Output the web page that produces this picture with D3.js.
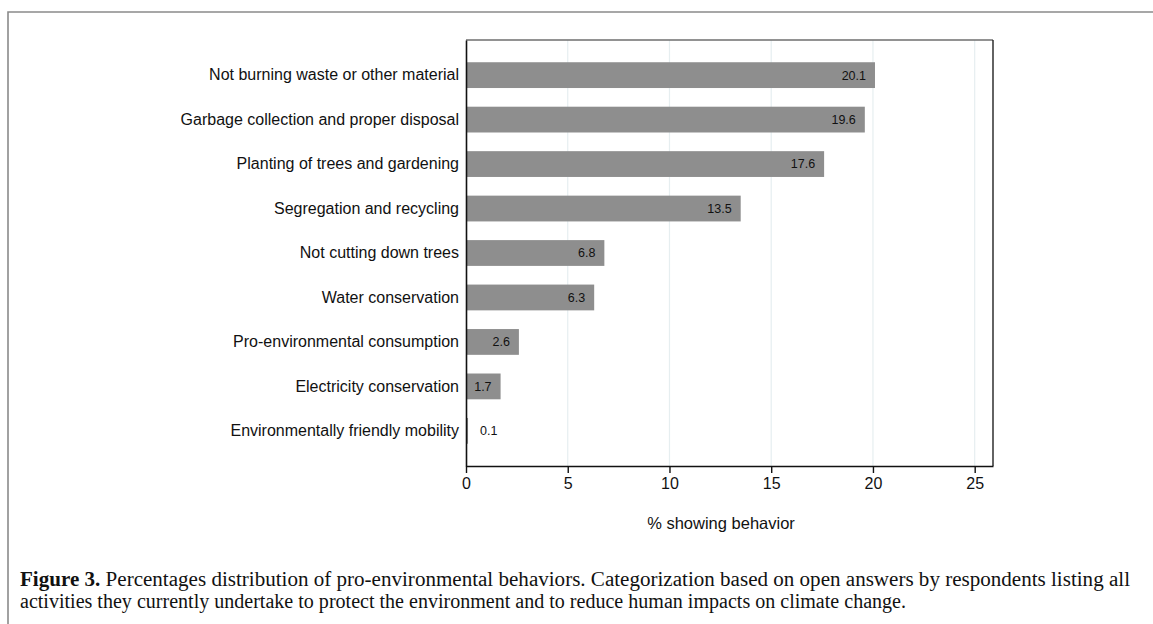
<!DOCTYPE html>
<html>
<head>
<meta charset="utf-8">
<script src="https://cdn.jsdelivr.net/npm/d3@7"></script>
<style>
    body { margin: 0; background: #fff; }
    svg { display: block; }
</style>
</head>
<body>
<div id="chart"></div>
<script>
// data
var categories = [
    "Not burning waste or other material",
    "Garbage collection and proper disposal",
    "Planting of trees and gardening",
    "Segregation and recycling",
    "Not cutting down trees",
    "Water conservation",
    "Pro-environmental consumption",
    "Electricity conservation",
    "Environmentally friendly mobility"
];
var values = [20.1, 19.6, 17.6, 13.5, 6.8, 6.3, 2.6, 1.7, 0.1];
var xTicks = [0, 5, 10, 15, 20, 25];
var axisTitle = "% showing behavior";
var captionBold = "Figure 3.";
var captionLines = [
    " Percentages distribution of pro-environmental behaviors. Categorization based on open answers by respondents listing all",
    "activities they currently undertake to protect the environment and to reduce human impacts on climate change."
];

var W = 1153, H = 624;
var plot = { left: 466, right: 993, top: 40, bottom: 466 };
var sans = "'Liberation Sans', Arial, sans-serif";

var svg = d3.select("#chart")
    .append("svg")
    .attr("width", W)
    .attr("height", H);

// outer frame (top + left edges)
svg.append("path")
    .attr("d", "M8," + H + "V12H" + W)
    .attr("fill", "none")
    .attr("stroke", "#8a8a8a")
    .attr("stroke-width", 1.6);

var x = d3.scaleLinear()
    .domain([0, 25.9])
    .range([plot.left, plot.right]);

var y = d3.scaleBand()
    .domain(categories)
    .range([plot.top, plot.bottom])
    .paddingInner(0.42)
    .paddingOuter(0.5);

// grid lines
svg.append("g")
    .selectAll("line")
    .data(xTicks.filter(d => d > 0))
    .enter().append("line")
    .attr("x1", d => x(d))
    .attr("x2", d => x(d))
    .attr("y1", plot.top)
    .attr("y2", plot.bottom)
    .attr("stroke", "#e6eef0")
    .attr("stroke-width", 1.2);

// bars
var rows = categories.map((c, i) => ({ cat: c, val: values[i] }));

svg.selectAll(".bar")
    .data(rows)
    .enter().append("rect")
    .attr("class", "bar")
    .attr("x", x(0))
    .attr("y", d => y(d.cat))
    .attr("width", d => x(d.val) - x(0))
    .attr("height", y.bandwidth())
    .attr("fill", "#8e8e8e");

// value labels
svg.selectAll(".bartext")
    .data(rows)
    .enter().append("text")
    .attr("class", "bartext")
    .attr("x", d => d.val < 1 ? x(d.val) + 12 : x(d.val) - 9)
    .attr("y", d => y(d.cat) + y.bandwidth() / 2)
    .attr("dy", "0.35em")
    .attr("text-anchor", d => d.val < 1 ? "start" : "end")
    .style("font-family", sans)
    .style("font-size", "12.5px")
    .style("fill", "#111")
    .text(d => d.val.toFixed(1));

// plot box: top and right
svg.append("line")
    .attr("x1", plot.left).attr("x2", plot.right)
    .attr("y1", plot.top).attr("y2", plot.top)
    .attr("stroke", "#6e6e6e").attr("stroke-width", 1.6);
svg.append("line")
    .attr("x1", plot.right).attr("x2", plot.right)
    .attr("y1", plot.top).attr("y2", plot.bottom)
    .attr("stroke", "#222").attr("stroke-width", 1.4);

// y axis
var yAxis = d3.axisLeft(y).tickSize(0).tickPadding(7);
var gy = svg.append("g")
    .attr("transform", "translate(" + plot.left + ",0)")
    .call(yAxis);
gy.select(".domain").attr("stroke", "#111").attr("stroke-width", 1.6);
gy.selectAll("text")
    .style("font-family", sans)
    .style("font-size", "16px")
    .style("fill", "#111");

// x axis
var xAxis = d3.axisBottom(x).tickValues(xTicks).tickSize(7).tickPadding(5).tickSizeOuter(0);
var gx = svg.append("g")
    .attr("transform", "translate(0," + plot.bottom + ")")
    .call(xAxis);
gx.select(".domain").attr("stroke", "#111").attr("stroke-width", 1.6);
gx.selectAll(".tick line").attr("stroke", "#111").attr("stroke-width", 1.4);
gx.selectAll("text")
    .style("font-family", sans)
    .style("font-size", "16px")
    .style("fill", "#111");

svg.append("text")
    .attr("x", 721)
    .attr("y", 529)
    .attr("text-anchor", "middle")
    .style("font-family", sans)
    .style("font-size", "16.5px")
    .style("fill", "#111")
    .text(axisTitle);

// caption
var cap = svg.append("g")
    .style("font-family", "'Liberation Serif', 'Times New Roman', serif")
    .style("font-size", "20px")
    .style("fill", "#111");

var t1 = cap.append("text")
    .attr("x", 20).attr("y", 586)
    .attr("textLength", 1110)
    .attr("lengthAdjust", "spacingAndGlyphs");
t1.append("tspan").style("font-weight", "bold").text(captionBold);
t1.append("tspan").text(captionLines[0]);

cap.append("text")
    .attr("x", 20)
    .attr("y", 608)
    .attr("textLength", 886)
    .attr("lengthAdjust", "spacingAndGlyphs")
    .text(captionLines[1]);
</script>
</body>
</html>
